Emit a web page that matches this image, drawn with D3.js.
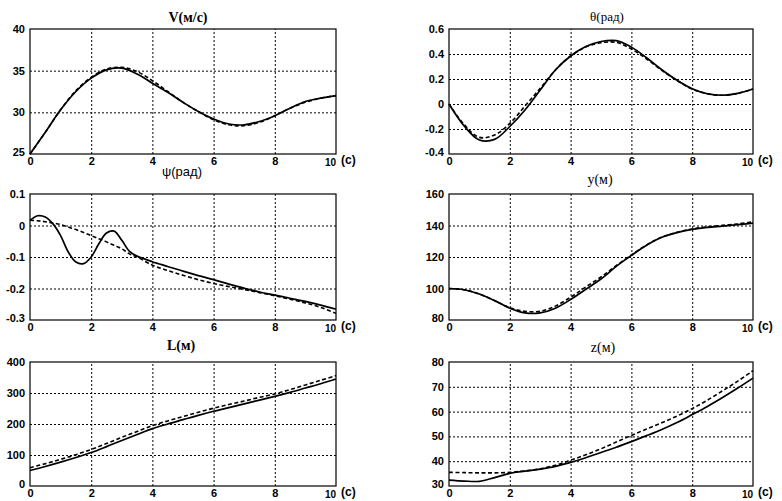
<!DOCTYPE html>
<html>
<head>
<meta charset="utf-8">
<script src="https://cdn.jsdelivr.net/npm/d3@7/dist/d3.min.js"></script>
<style>
  body { margin: 0; background: #fff; }
  .tick text { font-family: "Liberation Sans", Arial, sans-serif; font-size: 11px; font-weight: bold; fill: #000; }
  .grid line { stroke: #000; stroke-width: 1; stroke-dasharray: 2,2; }
  .grid path { display: none; }
</style>
</head>
<body>
<div id="main"></div>
<script>
/*********************************************************
 * Data
 *********************************************************/

// time samples (s)
const tHalf = [0, 0.5, 1, 1.5, 2, 2.5, 3, 3.5, 4, 4.5, 5, 5.5, 6, 6.5, 7, 7.5, 8, 8.5, 9, 9.5, 10];
const tPsi = [0, 0.25, 0.5, 0.75, 1, 1.25, 1.5, 1.75, 2, 2.25, 2.5, 2.75, 3, 3.25, 3.5,
  4, 4.5, 5, 5.5, 6, 6.5, 7, 7.5, 8, 8.5, 9, 9.5, 10];
const xTicks = [0, 2, 4, 6, 8, 10];

// V (m/s)
const vSolid = [25, 27.6, 30.3, 32.5, 34.1, 35.1, 35.3, 34.6, 33.5, 32.4, 31.2, 30.1, 29.2, 28.6, 28.5, 28.9, 29.6, 30.5, 31.3, 31.7, 32.0];
const vDashed = [25, 27.6, 30.3, 32.6, 34.2, 35.2, 35.4, 34.9, 33.8, 32.5, 31.2, 30.1, 29.1, 28.5, 28.4, 28.8, 29.6, 30.5, 31.2, 31.7, 32.0];
const vTicks = [25, 30, 35, 40];

// theta (rad)
const thSolid = [0, -0.176, -0.288, -0.283, -0.18, -0.048, 0.112, 0.272, 0.384, 0.46, 0.5, 0.507, 0.455, 0.37, 0.274, 0.19, 0.122, 0.082, 0.07, 0.085, 0.12];
const thDashed = [0, -0.165, -0.267, -0.248, -0.155, -0.016, 0.125, 0.272, 0.384, 0.455, 0.49, 0.493, 0.44, 0.36, 0.27, 0.188, 0.12, 0.082, 0.07, 0.085, 0.12];
const thTicks = [-0.4, -0.2, 0, 0.2, 0.4, 0.6];

// psi (rad)
const psiSolid = [0.016, 0.031, 0.027, 0.005, -0.032, -0.084, -0.116, -0.121, -0.1, -0.058, -0.024, -0.018, -0.047, -0.082, -0.097,
  -0.115, -0.13, -0.145, -0.159, -0.172, -0.186, -0.199, -0.211, -0.221, -0.231, -0.241, -0.253, -0.266];
const psiDashed = [0.017, 0.015, 0.012, 0.008, 0.003, -0.005, -0.013, -0.022, -0.032, -0.042, -0.052, -0.063, -0.074, -0.09, -0.1,
  -0.126, -0.143, -0.158, -0.172, -0.184, -0.194, -0.203, -0.213, -0.223, -0.234, -0.246, -0.26, -0.279];
const psiTicks = [-0.3, -0.2, -0.1, 0, 0.1];

// y (m)
const ySolid = [100, 99.2, 96.5, 92.3, 87.5, 84.5, 84.5, 87.5, 93, 99.5, 106, 114, 121, 127.5, 132.5, 135.5, 137.5, 138.8, 139.6, 140.5, 141.5];
const yDashed = [100, 99.2, 96.5, 92.3, 87.8, 85.5, 85.5, 88.8, 94.5, 101, 107.3, 114.5, 121.3, 127.7, 132.6, 135.7, 137.8, 139.2, 140.1, 141, 142.3];
const yTicks = [80, 100, 120, 140, 160];

// L (m)
const lSolid = [50, 63, 77, 92, 108, 127, 147, 166, 185, 200, 214, 228, 241, 253, 265, 277, 289, 302, 316, 330, 345];
const lDashed = [59, 72, 86, 101, 118, 137, 157, 176, 195, 210, 224, 238, 251, 263, 274, 286, 297, 311, 326, 341, 356];
const lTicks = [0, 100, 200, 300, 400];

// z (m)
const zSolid = [32.4, 32.0, 31.9, 33.4, 35.1, 36.0, 36.8, 37.9, 39.5, 41.4, 43.5, 45.6, 47.9, 50.3, 52.8, 55.6, 58.8, 62.1, 65.7, 69.5, 73.5];
const zDashed = [35.5, 35.4, 35.3, 35.3, 35.5, 36.1, 36.9, 38.4, 40.4, 42.6, 45.0, 47.7, 50.4, 53.0, 55.5, 58.2, 61.2, 64.6, 68.4, 72.3, 76.5];
const zTicks = [30, 40, 50, 60, 70, 80];

/*********************************************************
 * Layout
 *********************************************************/

const svgWidth = 782;
const svgHeight = 501;
const colL = [30, 336];
const colR = [449, 753];
const rows = [[29, 154], [194, 320], [362, 486]];

const serif = '"Liberation Serif", "Times New Roman", serif';
const sans = '"Liberation Sans", Arial, sans-serif';

const panels = [
  { title: 'V(м/с)', t: tHalf, solid: vSolid, dashed: vDashed, ticks: vTicks,
    xr: colL, yr: rows[0], ty: 22, tdx: 5, font: serif, size: 14, weight: 'bold' },
  { title: 'θ(рад)', t: tHalf, solid: thSolid, dashed: thDashed, ticks: thTicks,
    xr: colR, yr: rows[0], ty: 21, tdx: 6, font: serif, size: 13, weight: 'normal' },
  { title: 'ψ(рад)', t: tPsi, solid: psiSolid, dashed: psiDashed, ticks: psiTicks,
    xr: colL, yr: rows[1], ty: 176, tdx: -1, font: sans, size: 13, weight: 'normal' },
  { title: 'y(м)', t: tHalf, solid: ySolid, dashed: yDashed, ticks: yTicks,
    xr: colR, yr: rows[1], ty: 184, tdx: -1, font: serif, size: 14, weight: 'normal' },
  { title: 'L(м)', t: tHalf, solid: lSolid, dashed: lDashed, ticks: lTicks,
    xr: colL, yr: rows[2], ty: 350, tdx: -2, font: serif, size: 14, weight: 'bold' },
  { title: 'z(м)', t: tHalf, solid: zSolid, dashed: zDashed, ticks: zTicks,
    xr: colR, yr: rows[2], ty: 352, tdx: 2, font: serif, size: 14, weight: 'normal' }
];

const svg = d3
  .select('#main')
  .append('svg')
  .attr('width', svgWidth)
  .attr('height', svgHeight)
  .style('display', 'block');

panels.forEach(drawPanel);

function drawPanel(p) {
  const x = d3.scaleLinear().domain([0, 10]).range(p.xr);
  const y = d3.scaleLinear().domain(d3.extent(p.ticks)).range([p.yr[1], p.yr[0]]);
  const w = p.xr[1] - p.xr[0];
  const h = p.yr[1] - p.yr[0];

  const g = svg.append('g');

  // grid
  g.append('g')
    .attr('class', 'grid')
    .attr('transform', 'translate(0,' + p.yr[1] + ')')
    .call(d3.axisBottom(x).tickValues(xTicks.slice(1, -1)).tickSize(-h).tickFormat(''));
  g.append('g')
    .attr('class', 'grid')
    .attr('transform', 'translate(' + p.xr[0] + ',0)')
    .call(d3.axisLeft(y).tickValues(p.ticks.slice(1, -1)).tickSize(-w).tickFormat(''));

  // tick labels
  const xa = g.append('g')
    .attr('transform', 'translate(0,' + p.yr[1] + ')')
    .call(d3.axisBottom(x).tickValues(xTicks).tickSize(0).tickPadding(3).tickFormat(String));
  xa.select('.domain').remove();
  xa.selectAll('.tick')
    .filter(d => d === 10)
    .select('text')
    .style('font-size', '10px')
    .attr('dx', -6)
    .attr('dy', '0.85em');

  const ya = g.append('g')
    .attr('transform', 'translate(' + p.xr[0] + ',0)')
    .call(d3.axisLeft(y).tickValues(p.ticks).tickSize(0).tickPadding(5).tickFormat(String));
  ya.select('.domain').remove();
  ya.selectAll('.tick')
    .filter(d => d === p.ticks[0])
    .select('text')
    .attr('dy', '0.1em');

  // "(c)" unit label
  g.append('text')
    .attr('x', p.xr[1] + 5)
    .attr('y', p.yr[1] + 10)
    .style('font-family', sans)
    .style('font-size', '12px')
    .style('font-weight', 'bold')
    .text('(c)');

  // curves
  const line = d3.line()
    .x((d, i) => x(p.t[i]))
    .y(d => y(d))
    .curve(d3.curveCatmullRom.alpha(0.5));

  g.append('path')
    .datum(p.dashed)
    .attr('fill', 'none')
    .attr('stroke', '#000')
    .attr('stroke-width', 1.6)
    .attr('stroke-dasharray', '4,2.5')
    .attr('d', line);

  g.append('path')
    .datum(p.solid)
    .attr('fill', 'none')
    .attr('stroke', '#000')
    .attr('stroke-width', 1.7)
    .attr('d', line);

  // frame
  g.append('rect')
    .attr('x', p.xr[0])
    .attr('y', p.yr[0])
    .attr('width', w)
    .attr('height', h)
    .attr('fill', 'none')
    .attr('stroke', '#000')
    .attr('stroke-width', 1.2);

  // title
  g.append('text')
    .attr('x', (p.xr[0] + p.xr[1]) / 2 + p.tdx)
    .attr('y', p.ty)
    .attr('text-anchor', 'middle')
    .style('font-family', p.font)
    .style('font-size', p.size + 'px')
    .style('font-weight', p.weight)
    .text(p.title);
}
</script>
</body>
</html>
